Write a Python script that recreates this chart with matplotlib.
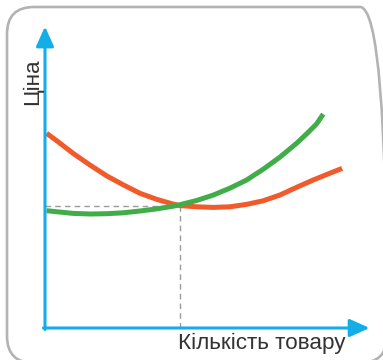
import matplotlib
matplotlib.use("Agg")
import matplotlib.pyplot as plt
from matplotlib.patches import FancyBboxPatch

# values (quantity, price in arbitrary units)
red_q = [0.05, 0.37, 0.88, 1.41, 1.93, 2.45, 2.97, 3.49, 4.01, 4.22,
         4.74, 5.26, 5.78, 6.30, 6.82, 7.34, 7.87, 8.38, 8.91, 9.29]
red_p = [6.49, 6.24, 5.82, 5.43, 5.07, 4.77, 4.49, 4.29, 4.13, 4.08,
         4.04, 4.02, 4.04, 4.12, 4.24, 4.43, 4.69, 4.93, 5.16, 5.32]
green_q = [0.05, 0.88, 1.41, 1.93, 2.45, 2.97, 3.49, 4.01, 4.22, 4.74,
           5.26, 5.78, 6.30, 6.82, 7.34, 7.87, 8.18, 8.49, 8.70]
green_p = [3.91, 3.82, 3.80, 3.81, 3.84, 3.90, 3.97, 4.06, 4.11, 4.25,
           4.43, 4.66, 4.93, 5.29, 5.69, 6.16, 6.47, 6.80, 7.13]
eq_q, eq_p = 4.22, 4.07

x_label = "Кількість товару"
y_label = "Ціна"

blue = "#13aee8"
red = "#f15a2b"
green = "#41ad49"

plt.rcParams['font.family'] = ['Liberation Sans', 'DejaVu Sans']

fig = plt.figure(figsize=(3.83, 3.60), dpi=100)
fig.patch.set_facecolor("white")

# rounded frame around the whole picture (right and bottom edges run off the image)
frame = FancyBboxPatch((0.07, -0.03), 3.80, 3.56,
                       boxstyle="round,pad=0,rounding_size=0.27",
                       transform=fig.dpi_scale_trans,
                       facecolor="none", edgecolor="#b3b3b3", lw=1.9)
fig.patches.append(frame)

ax = fig.add_axes([45 / 383, 32 / 360, 323 / 383, 300 / 360])
ax.set_xlim(0, 10.1)
ax.set_ylim(0, 10)
ax.axis("off")
ax.patch.set_alpha(0)

# dashed guide lines to the crossing point
ax.plot([0, eq_q], [eq_p, eq_p], color="#9a9a9a", lw=1.0, ls=(0, (4, 3)))
ax.plot([eq_q, eq_q], [0, eq_p], color="#9a9a9a", lw=1.0, ls=(0, (4, 3)))

ax.plot(red_q, red_p, color=red, lw=3.6, solid_capstyle="butt", solid_joinstyle="round")
ax.plot(green_q, green_p, color=green, lw=3.6, solid_capstyle="butt", solid_joinstyle="round")

# axes with arrows
arrow = dict(arrowstyle="-|>,head_length=0.6,head_width=0.27", color=blue,
             lw=2.2, mutation_scale=20, shrinkA=0, shrinkB=0)
ax.annotate("", xy=(10.15, 0), xytext=(-0.05, 0), arrowprops=arrow, annotation_clip=False)
ax.annotate("", xy=(0, 10.05), xytext=(0, -0.05), arrowprops=arrow, annotation_clip=False)

ax.text(eq_q - 0.05, -0.17, x_label, ha="left", va="top", fontsize=16.2, color="#333333")
ax.text(-0.07, 8.2, y_label, ha="right", va="center", rotation=90,
        fontsize=16.2, color="#333333")

fig.savefig("out.png", dpi=100)
